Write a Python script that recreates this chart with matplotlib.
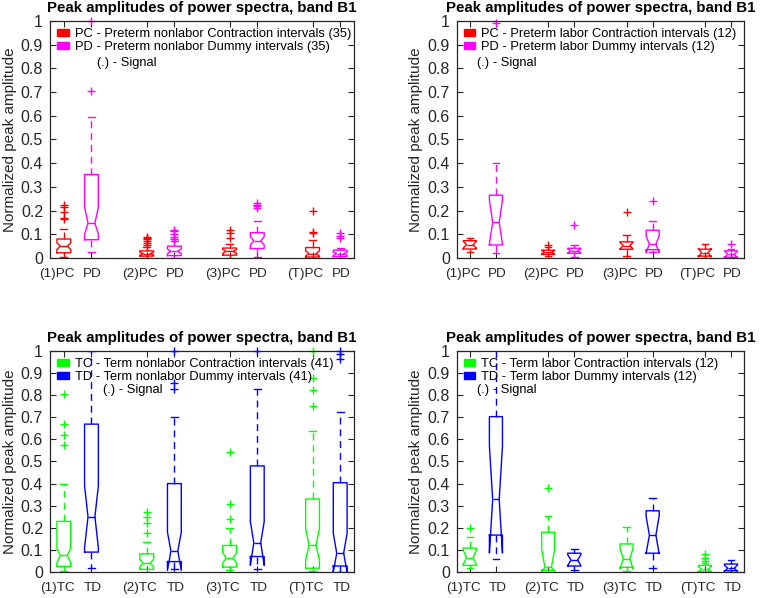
import matplotlib.pyplot as plt
from matplotlib.patches import Patch
from matplotlib.transforms import ScaledTranslation

plt.rcParams['font.family'] = ['Liberation Sans', 'DejaVu Sans']

# box positions and labels
positions = [1, 2, 4, 5, 7, 8, 10, 11]
pre_ticks = ['(1)PC', 'PD', '(2)PC', 'PD', '(3)PC', 'PD', '(T)PC', 'PD']
term_ticks = ['(1)TC', 'TD', '(2)TC', 'TD', '(3)TC', 'TD', '(T)TC', 'TD']

titles = ['Peak amplitudes of power spectra, band B1'] * 4
legend_a = ['PC - Preterm nonlabor Contraction intervals (35)', 'PD - Preterm nonlabor Dummy intervals (35)']
legend_b = ['PC - Preterm labor Contraction intervals (12)', 'PD - Preterm labor Dummy intervals (12)']
legend_c = ['TC - Term nonlabor Contraction intervals (41)', 'TD - Term nonlabor Dummy intervals (41)']
legend_d = ['TC - Term labor Contraction intervals (12)', 'TD - Term labor Dummy intervals (12)']
signal_note = '(.) - Signal'

# box statistics, one row per panel (A top-left, B top-right, C bottom-left, D bottom-right)
q1 = [[0.022, 0.077, 0.008, 0.010, 0.012, 0.040, 0.004, 0.006],
      [0.038, 0.055, 0.015, 0.020, 0.037, 0.035, 0.008, 0.003],
      [0.025, 0.090, 0.012, 0.047, 0.022, 0.070, 0.017, 0.027],
      [0.030, 0.167, 0.008, 0.027, 0.021, 0.085, 0.002, 0.006]]
med = [[0.050, 0.147, 0.018, 0.028, 0.028, 0.072, 0.018, 0.018],
       [0.056, 0.150, 0.024, 0.030, 0.052, 0.058, 0.022, 0.015],
       [0.075, 0.250, 0.040, 0.095, 0.063, 0.132, 0.120, 0.085],
       [0.065, 0.328, 0.022, 0.054, 0.060, 0.167, 0.012, 0.017]]
q3 = [[0.080, 0.352, 0.030, 0.050, 0.042, 0.107, 0.044, 0.033],
      [0.073, 0.265, 0.033, 0.041, 0.068, 0.117, 0.037, 0.030],
      [0.229, 0.669, 0.082, 0.400, 0.120, 0.480, 0.330, 0.404],
      [0.108, 0.703, 0.180, 0.085, 0.127, 0.277, 0.030, 0.036]]
whis_lo = [[0.004, 0.024, 0.0, 0.0, 0.0, 0.005, 0.0, 0.0],
           [0.027, 0.020, 0.008, 0.005, 0.008, 0.027, 0.0, 0.0],
           [0.006, 0.020, 0.0, 0.015, 0.008, 0.014, 0.003, 0.0],
           [0.018, 0.058, 0.0, 0.009, 0.005, 0.018, 0.0, 0.0]]
whis_hi = [[0.124, 0.595, 0.045, 0.070, 0.058, 0.155, 0.075, 0.043],
           [0.083, 0.400, 0.045, 0.055, 0.097, 0.155, 0.057, 0.038],
           [0.400, 1.000, 0.134, 0.700, 0.200, 0.828, 0.637, 0.724],
           [0.160, 1.050, 0.252, 0.104, 0.205, 0.334, 0.040, 0.055]]
notch_lo = [[0.036, 0.100, 0.012, 0.018, 0.020, 0.055, 0.008, 0.011],
            [0.042, 0.060, 0.017, 0.022, 0.038, 0.022, 0.004, 0.002],
            [0.042, 0.109, 0.023, 0.007, 0.040, 0.030, 0.055, 0.000],
            [0.035, 0.086, 0.000, 0.030, 0.014, 0.083, 0.000, 0.003]]
notch_hi = [[0.064, 0.215, 0.024, 0.038, 0.036, 0.090, 0.030, 0.025],
            [0.070, 0.245, 0.031, 0.038, 0.066, 0.093, 0.040, 0.030],
            [0.107, 0.390, 0.057, 0.180, 0.087, 0.228, 0.198, 0.175],
            [0.098, 0.570, 0.104, 0.078, 0.106, 0.252, 0.025, 0.031]]
outliers = [[[0.165, 0.17, 0.195, 0.213, 0.225], [0.703, 0.998],
             [0.055, 0.062, 0.07, 0.078, 0.085, 0.09], [0.078, 0.082, 0.09, 0.1, 0.112, 0.12],
             [0.083, 0.105, 0.12], [0.21, 0.218, 0.225, 0.232],
             [0.105, 0.11, 0.2], [0.083, 0.093, 0.105]],
            [[], [0.993], [0.056], [0.139], [0.194], [0.24], [], [0.057]],
            [[0.575, 0.62, 0.67, 0.805], [], [0.175, 0.222, 0.25, 0.27], [0.826, 0.853, 1.0],
             [0.24, 0.308, 0.543], [1.0], [0.752, 0.822, 0.876, 1.0], [0.964, 0.985, 1.0]],
            [[0.198], [], [0.378], [], [], [], [0.05, 0.065, 0.08], []]]

pre_colors = ['#ff0000', '#ff00ff']
term_colors = ['#00ff00', '#0000ff']

fig = plt.figure(figsize=(7.6, 5.98), dpi=100)
rects = [[0.0658, 0.5686, 0.4, 0.3963],
         [0.601, 0.5686, 0.378, 0.3963],
         [0.0658, 0.0435, 0.4, 0.3696],
         [0.601, 0.0435, 0.378, 0.3696]]
ticks_all = [pre_ticks, pre_ticks, term_ticks, term_ticks]
colors_all = [pre_colors, pre_colors, term_colors, term_colors]
legends_all = [legend_a, legend_b, legend_c, legend_d]
note_x = [0.155, 0.07, 0.174, 0.07]

axc = '#262626'
for k in range(4):
    ax = fig.add_axes(rects[k])
    cols = colors_all[k]
    stats = []
    for i in range(8):
        stats.append(dict(q1=q1[k][i], med=med[k][i], q3=q3[k][i],
                          whislo=whis_lo[k][i], whishi=whis_hi[k][i],
                          cilo=notch_lo[k][i], cihi=notch_hi[k][i],
                          fliers=outliers[k][i]))
    bp = ax.bxp(stats, positions=positions, widths=0.5, capwidths=0.25,
                shownotches=True, manage_ticks=False)
    for i in range(8):
        c = cols[i % 2]
        bp['boxes'][i].set(color=c, linewidth=1.0)
        bp['medians'][i].set(color=c, linewidth=1.0)
        for w in bp['whiskers'][2 * i:2 * i + 2]:
            w.set(color=c, linewidth=1.0, linestyle=(0, (5, 3.5)))
        for cp in bp['caps'][2 * i:2 * i + 2]:
            cp.set(color=c, linewidth=1.0)
        bp['fliers'][i].set(marker='+', markeredgecolor=c, markersize=6,
                            markeredgewidth=1.0, clip_on=False)

    ax.set_xlim(0.5, 11.5)
    ax.set_ylim(0, 1)
    ax.set_yticks([0, 0.1, 0.2, 0.3, 0.4, 0.5, 0.6, 0.7, 0.8, 0.9, 1])
    ax.set_yticklabels(['0', '0.1', '0.2', '0.3', '0.4', '0.5', '0.6', '0.7', '0.8', '0.9', '1'])
    ax.set_xticks(positions)
    ax.set_xticklabels(ticks_all[k])
    ax.tick_params(direction='in', length=4, top=True, right=True, colors=axc)
    ax.tick_params(axis='y', labelsize=11.5, pad=5)
    ax.tick_params(axis='x', labelsize=9.7, pad=7)
    shift = ScaledTranslation(0.105, 0, fig.dpi_scale_trans)
    for lbl in ax.get_xticklabels():
        lbl.set_horizontalalignment('right')
        lbl.set_transform(lbl.get_transform() + shift)
    for s in ax.spines.values():
        s.set_color(axc)
        s.set_linewidth(0.9)
    ax.set_ylabel('Normalized peak amplitude', fontsize=11, color=axc, labelpad=3)
    ax.set_title(titles[k], fontsize=10.8, fontweight='bold', pad=6.5)

    handles = [Patch(facecolor=cols[0], edgecolor=cols[0]),
               Patch(facecolor=cols[1], edgecolor=cols[1])]
    ax.legend(handles, legends_all[k], loc='upper left', frameon=False, fontsize=9.3,
              handlelength=0.9, handleheight=0.45, handletextpad=0.45,
              borderpad=0.25, borderaxespad=0.3, labelspacing=0.08)
    ax.text(note_x[k], 0.824, signal_note, transform=ax.transAxes, fontsize=9.3,
            va='center', ha='left', color='black')

fig.savefig('out.png', dpi=100)
